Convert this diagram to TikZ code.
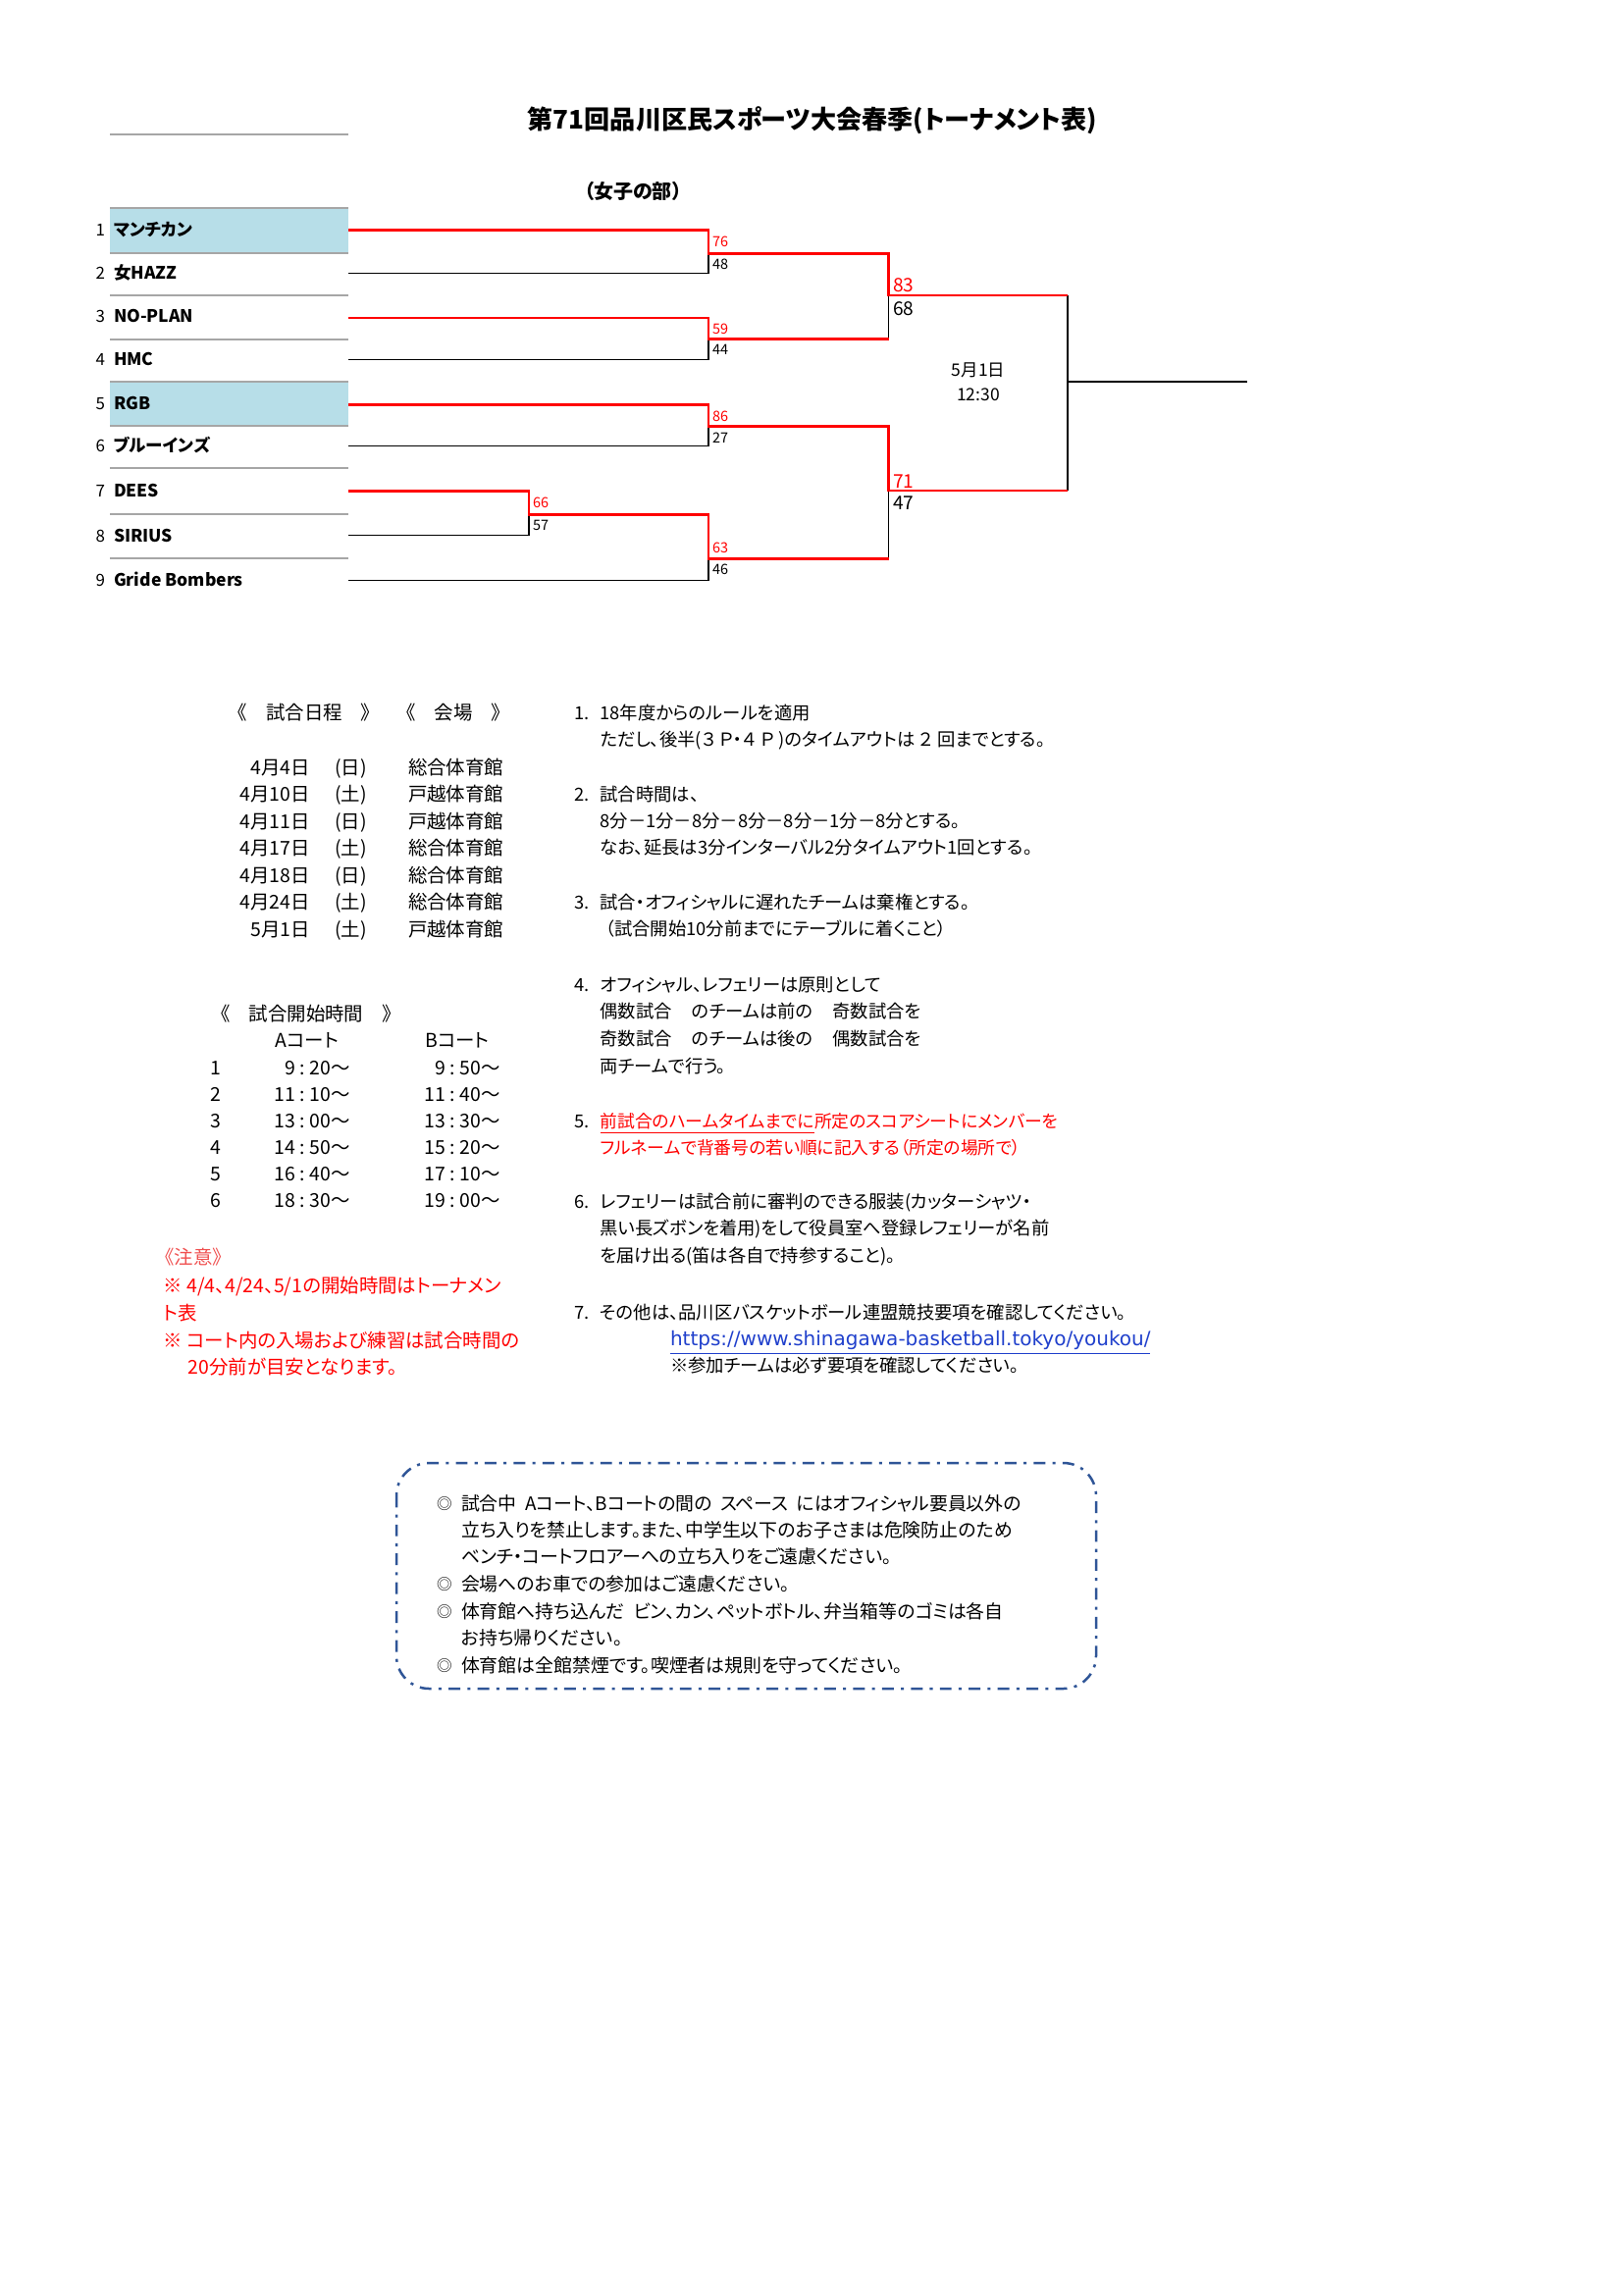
\documentclass[tikz,border=0pt]{standalone}
\usepackage{fontspec}
\setmainfont{Noto Sans CJK JP}[RawFeature=+palt]
\newfontfamily\urlfont{DejaVu Sans}
\definecolor{cellblue}{HTML}{B7DEE8}
\definecolor{bred}{HTML}{FF0000}
\definecolor{boxblue}{HTML}{2F5597}
\definecolor{lnk}{HTML}{2040CC}
\definecolor{notered}{HTML}{F05050}
\definecolor{rowgray}{HTML}{A6A6A6}
\newcommand\fsz[1]{\fontsize{#1}{#1}\selectfont}
\newcommand\gp{\hspace{0.45em}}
\newcommand\gq{\hspace{1.1em}}
\newcommand\cl{\hspace{0.25em}:\hspace{0.25em}}
\tikzset{
  txt/.style={inner sep=0pt, outer sep=0pt, anchor=base west, font=\fsz{7pt}},
  txtr/.style={txt, anchor=base east},
  txtc/.style={txt, anchor=base},
  rtxt/.style={txt, font=\fsz{6.6pt}},
  btxt/.style={txt, font=\fsz{6.8pt}},
  redtxt/.style={txt, text=bred},
  team/.style={txt, font=\fsz{6.3pt}\bfseries},
  teamno/.style={txtr, font=\fsz{6.1pt}},
  sc/.style={txt, font=\fsz{5.2pt}},
  scr/.style={sc, text=bred},
  bsc/.style={txt, font=\fsz{6.9pt}},
  bscr/.style={bsc, text=bred},
  win/.style={draw=bred, line width=1pt},
  lose/.style={draw=black, line width=0.55pt},
  rowline/.style={draw=rowgray, line width=0.6pt},
  boxline/.style={draw=boxblue, line width=0.9pt, dash pattern=on 4.3pt off 2.6pt on 1.1pt off 2.6pt, rounded corners=12pt},
}
\begin{document}
\begin{tikzpicture}[x=0.36pt,y=-0.36pt]
\useasboundingbox (0,0) rectangle (1654,2339);
\fill[white] (0,0) rectangle (1654,2339);

% title
\node[txtc, font=\fsz{9.4pt}\bfseries] (title) at (828,131) {第71回品川区民スポーツ大会春季(トーナメント表)};
\node[txtc, font=\fsz{7.2pt}\bfseries] (sub) at (645,202) {（女子の部）};

% table
\fill[cellblue] (112,212.3) rectangle (355,258.3);
\fill[cellblue] (112,389.3) rectangle (355,434.3);
\foreach \yy in {137,212.3,258.3,301,345.7,389.3,434.3,477.3,524.3,569.3}
  \draw[rowline] (112,\yy) -- (355,\yy);

\node[teamno] (n1) at (107,240) {1}; \node[team] (tm1) at (116,240) {マンチカン};
\node[teamno] (n2) at (107,284.5) {2}; \node[team] (tm2) at (116,284.5) {女HAZZ};
\node[teamno] (n3) at (107,328.5) {3}; \node[team] (tm3) at (116,328.5) {NO-PLAN};
\node[teamno] (n4) at (107,372) {4}; \node[team] (tm4) at (116,372) {HMC};
\node[teamno] (n5) at (107,417) {5}; \node[team] (tm5) at (116,417) {RGB};
\node[teamno] (n6) at (107,460.5) {6}; \node[team] (tm6) at (116,460.5) {ブルーインズ};
\node[teamno] (n7) at (107,506) {7}; \node[team] (tm7) at (116,506) {DEES};
\node[teamno] (n8) at (107,552) {8}; \node[team] (tm8) at (116,552) {SIRIUS};
\node[teamno] (n9) at (107,597) {9}; \node[team] (tm9) at (116,597) {Gride Bombers};

% bracket coordinates
\coordinate (t1) at (355,234.3); \coordinate (t2) at (355,278.3);
\coordinate (t3) at (355,324);   \coordinate (t4) at (355,366.3);
\coordinate (t5) at (355,412.3); \coordinate (t6) at (355,454.3);
\coordinate (t7) at (355,500.7); \coordinate (t8) at (355,545.7);
\coordinate (t9) at (355,591.7);
\coordinate (a1) at (722,234.3); \coordinate (a2) at (722,278.3); \coordinate (m1) at (722,258.3);
\coordinate (a3) at (722,324);   \coordinate (a4) at (722,366.3); \coordinate (m2) at (722,345.7);
\coordinate (a5) at (722,412.3); \coordinate (a6) at (722,454.3); \coordinate (m3) at (722,434.3);
\coordinate (a7) at (539,500.7); \coordinate (a8) at (539,545.7); \coordinate (m0) at (539,524.3);
\coordinate (b0) at (722,524.3); \coordinate (a9) at (722,591.7); \coordinate (m4) at (722,569.3);
\coordinate (c1) at (905.6,258.3); \coordinate (c2) at (905.6,345.7); \coordinate (s1) at (905.6,301);
\coordinate (c3) at (905.6,434.3); \coordinate (c4) at (905.6,569.3); \coordinate (s2) at (905.6,500);
\coordinate (f1) at (1088,301); \coordinate (f2) at (1088,500); \coordinate (fm) at (1088,389);
\coordinate (champ) at (1271,389);

% losing paths
\draw[lose] (t2) -- (a2) -- (m1);
\draw[lose] (t4) -- (a4) -- (m2);
\draw[lose] (t6) -- (a6) -- (m3);
\draw[lose] (t8) -- (a8) -- (m0);
\draw[lose] (t9) -- (a9) -- (m4);
\draw[lose] (c2) -- (s1);
\draw[lose] (c4) -- (s2);
\draw[lose] (f1) -- (f2);
\draw[lose] (fm) -- (champ);
% winning paths
\draw[win] (t1) -- (a1) -- (m1) -- (c1) -- (s1) -- (f1);
\draw[win] (t3) -- (a3) -- (m2) -- (c2);
\draw[win] (t5) -- (a5) -- (m3) -- (c3) -- (s2) -- (f2);
\draw[win] (t7) -- (a7) -- (m0) -- (b0) -- (m4) -- (c4);

% scores
\node[scr] (s76) at (726,251.7) {76}; \node[sc] (s48) at (726,274) {48};
\node[scr] (s59) at (726,340) {59};   \node[sc] (s44) at (726,361.7) {44};
\node[scr] (s86) at (726,429) {86};   \node[sc] (s27) at (726,451) {27};
\node[scr] (s66) at (543,517.7) {66}; \node[sc] (s57) at (543,540) {57};
\node[scr] (s63) at (726,563) {63};   \node[sc] (s46) at (726,585.7) {46};
\node[bscr] (s83) at (910,297) {83};  \node[bsc] (s68) at (910,321.3) {68};
\node[bscr] (s71) at (910,497) {71};  \node[bsc] (s47) at (910,519.7) {47};
\node[txtc, font=\fsz{6.3pt}] (fdate) at (997,383) {5月1日};
\node[txtc, font=\fsz{6.3pt}] (ftime) at (997,408) {12:30};

% schedule
\node[txtc] (hs) at (310,733.7) {《　試合日程　》};
\node[txtc] (hv) at (462,733.7) {《　会場　》};
\foreach \d/\w/\v [count=\i from 0] in {4月4日/日/総合体育館,4月10日/土/戸越体育館,4月11日/日/戸越体育館,4月17日/土/総合体育館,4月18日/日/総合体育館,4月24日/土/総合体育館,5月1日/土/戸越体育館}{
  \node[txtr] (d\i) at (316,789+27.5*\i) {\d};
  \node[txt] (w\i) at (341,789+27.5*\i) {(\w)};
  \node[txt] (v\i) at (416,789+27.5*\i) {\v};
}

% start times
\node[txtc] (ht) at (312,1040) {《　試合開始時間　》};
\node[txtc] (ca) at (313,1067) {Aコート};
\node[txtc] (cb) at (466,1067) {Bコート};
\foreach \ha/\ma/\hb/\mb [count=\i] in {9/20/9/50,11/10/11/40,13/00/13/30,14/50/15/20,16/40/17/10,18/30/19/00}{
  \node[txtc] (k\i) at (220,1068+27*\i) {\i};
  \node[txtr] (ta\i) at (357,1068+27*\i) {\ha\cl\ma～};
  \node[txtr] (tb\i) at (510,1068+27*\i) {\hb\cl\mb～};
}

% notes (red)
\node[txt, text=notered] (nt0) at (168,1288.7) {《注意》};
\node[redtxt] (nt1) at (166.7,1317) {※ 4/4、4/24、5/1の開始時間はトーナメン};
\node[redtxt] (nt2) at (166.7,1345.3) {ト表};
\node[redtxt] (nt3) at (166.7,1373.7) {※ コート内の入場および練習は試合時間の};
\node[redtxt] (nt4) at (191.7,1400.3) {20分前が目安となります。};

% rules
\node[rtxt] (i1) at (585.5,733) {1.};
\node[rtxt] (r1a) at (611.5,733) {18年度からのルールを適用};
\node[rtxt] (r1b) at (611.5,760) {ただし、後半(３\hspace{0.25em}Ｐ・４\hspace{0.25em}Ｐ\hspace{0.25em})のタイムアウトは\hspace{0.25em}２\hspace{0.25em}回までとする。};
\node[rtxt] (i2) at (585.5,816) {2.};
\node[rtxt] (r2a) at (611.5,816) {試合時間は、};
\node[rtxt] (r2b) at (611.5,843) {8分－1分－8分－8分－8分－1分－8分とする。};
\node[rtxt] (r2c) at (611.5,870) {なお、延長は3分インターバル2分タイムアウト1回とする。};
\node[rtxt] (i3) at (585.5,926) {3.};
\node[rtxt] (r3a) at (611.5,926) {試合・オフィシャルに遅れたチームは棄権とする。};
\node[rtxt] (r3b) at (617,953) {（試合開始10分前までにテーブルに着くこと）};
\node[rtxt] (i4) at (585.5,1010) {4.};
\node[rtxt] (r4a) at (611.5,1010) {オフィシャル、レフェリーは原則として};
\node[rtxt] (r4b) at (611.5,1037) {偶数試合\gq のチームは前の\gq 奇数試合を};
\node[rtxt] (r4c) at (611.5,1065) {奇数試合\gq のチームは後の\gq 偶数試合を};
\node[rtxt] (r4d) at (611.5,1093) {両チームで行う。};
\node[rtxt] (i5) at (585.5,1149) {5.};
\node[rtxt, text=bred, font=\fsz{6.4pt}] (r5a) at (611.5,1149) {\underline{前試合のハームタイムまでに}所定のスコアシートにメンバーを};
\node[rtxt, text=bred, font=\fsz{6.4pt}] (r5b) at (611.5,1176) {フルネームで背番号の若い順に記入する（所定の場所で）};
\node[rtxt] (i6) at (585.5,1231) {6.};
\node[rtxt] (r6a) at (611.5,1231) {レフェリーは試合前に審判のできる服装(カッターシャツ・};
\node[rtxt] (r6b) at (611.5,1258) {黒い長ズボンを着用)をして役員室へ登録レフェリーが名前};
\node[rtxt] (r6c) at (611.5,1286) {を届け出る(笛は各自で持参すること)。};
\node[rtxt] (i7) at (585.5,1344) {7.};
\node[rtxt] (r7a) at (611.5,1344) {その他は、品川区バスケットボール連盟競技要項を確認してください。};
\node[txt, text=lnk, font=\urlfont\fsz{7.2pt}] (url) at (683,1371) {\underline{https://www.shinagawa-basketball.tokyo/youkou/}};
\node[rtxt] (r7c) at (683,1398) {※参加チームは必ず要項を確認してください。};

% notice box
\draw[boxline] (404,1491) rectangle (1117,1721);
\node[btxt, font=\fsz{5.6pt}] (b1m) at (445,1538) {◎};
\node[btxt] (b1) at (470,1539) {試合中\gp Aコート、Bコートの間の\gp スペース\gp にはオフィシャル要員以外の};
\node[btxt] (b2) at (470,1566) {立ち入りを禁止します。また、中学生以下のお子さまは危険防止のため};
\node[btxt] (b3) at (470,1593) {ベンチ・コートフロアーへの立ち入りをご遠慮ください。};
\node[btxt, font=\fsz{5.6pt}] (b4m) at (445,1620) {◎};
\node[btxt] (b4) at (470,1621) {会場へのお車での参加はご遠慮ください。};
\node[btxt, font=\fsz{5.6pt}] (b5m) at (445,1648) {◎};
\node[btxt] (b5) at (470,1649) {体育館へ持ち込んだ\gp ビン、カン、ペットボトル、弁当箱等のゴミは各自};
\node[btxt] (b6) at (470,1676) {お持ち帰りください。};
\node[btxt, font=\fsz{5.6pt}] (b7m) at (445,1703) {◎};
\node[btxt] (b7) at (470,1704) {体育館は全館禁煙です。喫煙者は規則を守ってください。};
\end{tikzpicture}
\end{document}
